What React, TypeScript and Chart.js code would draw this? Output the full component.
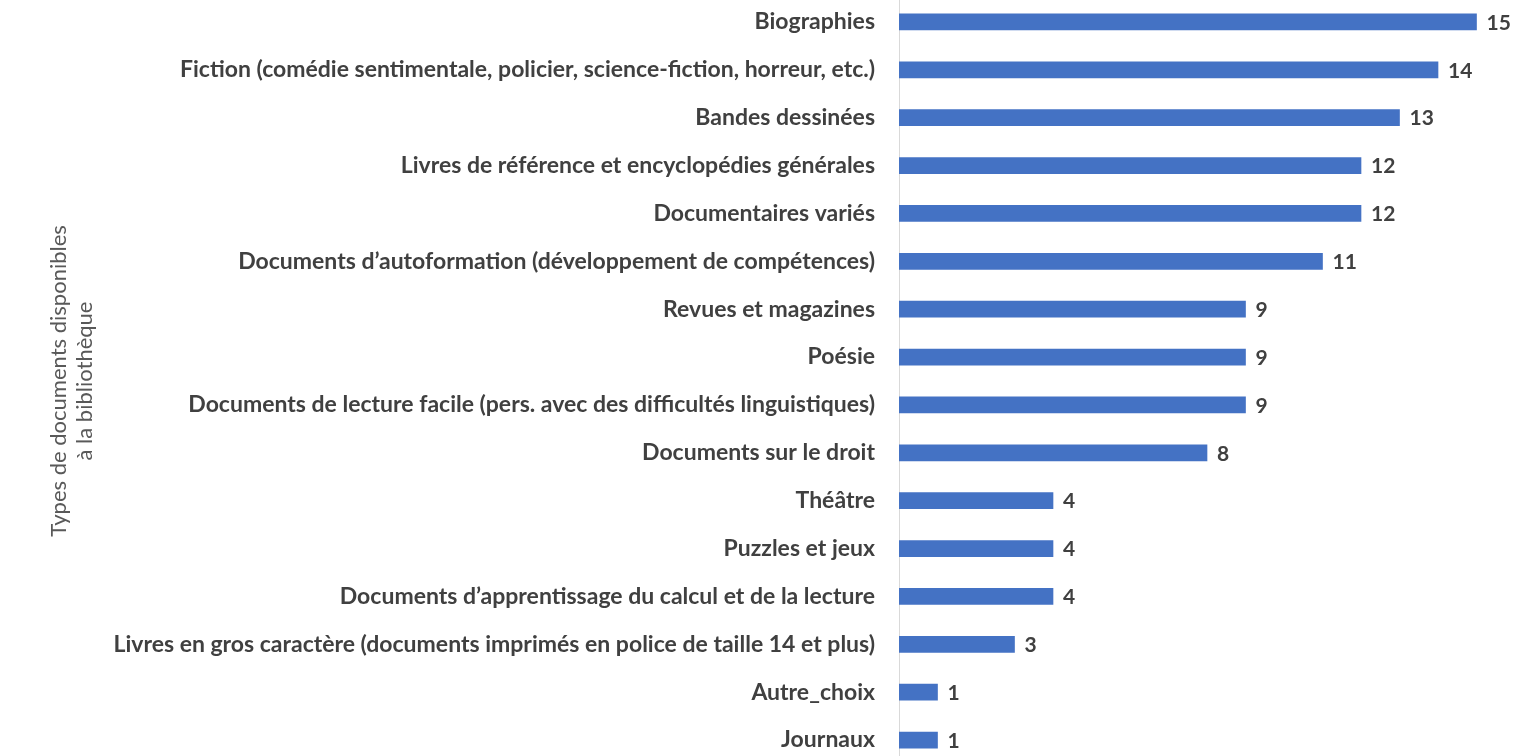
import React, { useEffect, useRef } from "react";
import { Chart, registerables } from "chart.js";

Chart.register(...registerables);

const categories: string[] = [
  "Biographies",
  "Fiction (comédie sentimentale, policier, science-fiction, horreur, etc.)",
  "Bandes dessinées",
  "Livres de référence et encyclopédies générales",
  "Documentaires variés",
  "Documents d’autoformation (développement de compétences)",
  "Revues et magazines",
  "Poésie",
  "Documents de lecture facile (pers. avec des difficultés linguistiques)",
  "Documents sur le droit",
  "Théâtre",
  "Puzzles et jeux",
  "Documents d’apprentissage du calcul et de la lecture",
  "Livres en gros caractère (documents imprimés en police de taille 14 et plus)",
  "Autre_choix",
  "Journaux",
];

const counts: number[] = [15, 14, 13, 12, 12, 11, 9, 9, 9, 8, 4, 4, 4, 3, 1, 1];

const axisTitle: string[] = ["Types de documents disponibles", "à la bibliothèque"];

const FONT = "Lato, 'Open Sans', sans-serif";
const TEXT = "#404040";

const valueLabels = {
  id: "valueLabels",
  afterDatasetsDraw(chart: any) {
    const ctx = chart.ctx;
    const meta = chart.getDatasetMeta(0);
    ctx.save();
    ctx.font = `bold 21px ${FONT}`;
    ctx.fillStyle = TEXT;
    ctx.textAlign = "left";
    ctx.textBaseline = "middle";
    meta.data.forEach((bar: any, i: number) => {
      ctx.fillText(String(counts[i]), bar.x + 10, bar.y + 1);
    });
    ctx.restore();
  },
};

export default function App() {
  const ref = useRef<HTMLCanvasElement | null>(null);

  useEffect(() => {
    if (!ref.current) return;
    const chart = new Chart(ref.current, {
      type: "bar",
      data: {
        labels: categories,
        datasets: [
          {
            data: counts,
            backgroundColor: "#4472C4",
            barThickness: 16,
          },
        ],
      },
      options: {
        indexAxis: "y",
        animation: false,
        responsive: false,
        maintainAspectRatio: false,
        layout: { padding: 0 },
        plugins: {
          legend: { display: false },
          tooltip: { enabled: false },
        },
        scales: {
          x: {
            display: false,
            min: 0,
            max: 16,
          },
          y: {
            afterFit: (scale: any) => {
              scale.width = 899;
            },
            grid: { display: false, drawTicks: false },
            border: { display: true, color: "#d9d9d9", width: 1 },
            ticks: {
              padding: 24,
              color: TEXT,
              font: { family: FONT, size: 23, weight: "bold", lineHeight: 1.0435 },
              autoSkip: false,
            },
            title: {
              display: true,
              text: axisTitle,
              color: "#595959",
              font: { family: FONT, size: 22, weight: "normal", lineHeight: 1.22 },
              padding: { top: 45, bottom: 0 },
            },
          },
        },
      },
      plugins: [valueLabels],
    });
    return () => chart.destroy();
  }, []);

  return (
    <div style={{ position: "fixed", left: 0, top: -38, width: 1515, height: 838, background: "#fff" }}>
      <canvas ref={ref} width={1515} height={838} style={{ display: "block" }} />
    </div>
  );
}
